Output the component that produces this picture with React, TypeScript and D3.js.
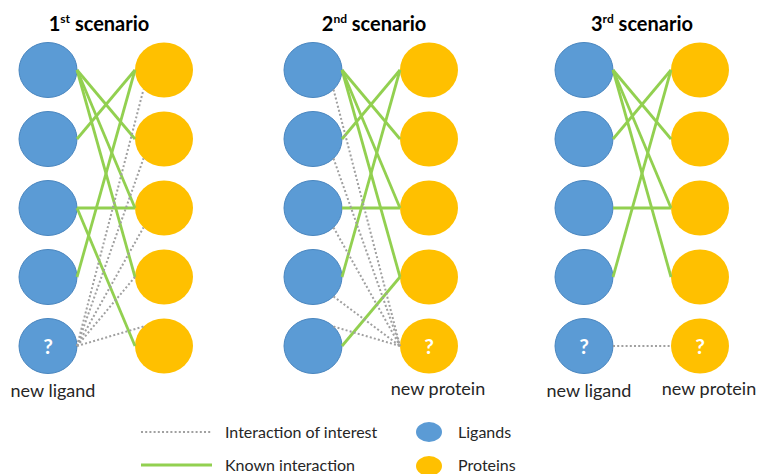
import React from "react";
import * as d3 from "d3";

// ---- data ----
const rows = [0, 1, 2, 3, 4];
const scenarioNums = ["1", "2", "3"];
const scenarioSups = ["st", "nd", "rd"];
const newLigand = [true, false, true];
const newProtein = [false, true, true];
// known interactions: [ligand row, protein row]
const known1: [number, number][] = [[0, 1], [0, 2], [0, 3], [1, 0], [2, 2], [2, 4], [3, 0]];
const known2: [number, number][] = [[0, 1], [0, 2], [0, 3], [1, 0], [2, 2], [3, 0], [4, 3]];
const known3: [number, number][] = [[0, 1], [0, 2], [0, 3], [1, 0], [2, 2], [3, 0]];
// interactions of interest: [ligand row, ligand site, protein row, protein site]
const interest1: [number, string, number, string][] = [
  [4, "r", 0, "dl"], [4, "r", 1, "dl"], [4, "r", 2, "dl"], [4, "r", 3, "l"], [4, "r", 4, "ul"],
];
const interest2: [number, string, number, string][] = [
  [0, "dr", 4, "l"], [1, "dr", 4, "l"], [2, "dr", 4, "l"], [3, "dr", 4, "l"], [4, "ur", 4, "l"],
];
const interest3: [number, string, number, string][] = [[4, "r", 4, "l"]];
const knownSets = [known1, known2, known3];
const interestSets = [interest1, interest2, interest3];
const legendLines = ["Interaction of interest", "Known interaction"];
const legendNodes = ["Ligands", "Proteins"];

const W = 758, H = 474;
const BLUE = "#5B9BD5", ORANGE = "#FFC000", GREEN = "#92D050", GREY = "#A0A0A0";
const TEXT = "#262626";
const FONT = "Lato, 'Open Sans', sans-serif";
const RX = 29, RY = 27.5;
const titleShift = [-7, 3, 0];

const yRow = d3.scalePoint<number>().domain(rows).range([70, 346]);
const xLig = d3.scaleOrdinal<number, number>().domain([0, 1, 2]).range([48, 313, 584]);
const GAP = 116;
const xProt = (i: number) => xLig(i) + GAP;

const siteAngle: Record<string, number> = {
  r: 0, dr: Math.PI / 4, ur: -Math.PI / 4, l: Math.PI, dl: (3 * Math.PI) / 4, ul: (-3 * Math.PI) / 4,
};
const site = (cx: number, cy: number, s: string) => {
  const a = siteAngle[s];
  return [cx + RX * Math.cos(a), cy + RY * Math.sin(a)];
};

export default function App() {
  return (
    <svg width={W} height={H} style={{ position: "absolute", left: 0, top: 0, background: "#fff" }}
      fontFamily={FONT}>
      {scenarioNums.map((num, p) => {
        const lx = xLig(p), px = xProt(p);
        return (
          <g key={p}>
            <text x={(lx + px) / 2 + titleShift[p]} y={31} textAnchor="middle" fontWeight="bold" fontSize={20} fill="#000">
              {num}
              <tspan dy={-8} fontSize={12}>{scenarioSups[p]}</tspan>
              <tspan dy={8}> scenario</tspan>
            </text>
            {rows.map((r) => (
              <g key={r}>
                <ellipse cx={lx} cy={yRow(r)} rx={RX} ry={RY} fill={BLUE} stroke="#4a86bf" strokeWidth={1} />
                <ellipse cx={px} cy={yRow(r)} rx={RX} ry={RY} fill={ORANGE} />
              </g>
            ))}
            {knownSets[p].map(([l, q], k) => (
              <line key={"k" + k} x1={lx + RX} y1={yRow(l)} x2={px - RX} y2={yRow(q)}
                stroke={GREEN} strokeWidth={2.8} />
            ))}
            {interestSets[p].map(([l, ls, q, qs], k) => {
              const [x1, y1] = site(lx, yRow(l)!, ls);
              const [x2, y2] = site(px, yRow(q)!, qs);
              return (
                <line key={"i" + k} x1={x1} y1={y1} x2={x2} y2={y2}
                  stroke={GREY} strokeWidth={2} strokeDasharray="2 2.2" />
              );
            })}
            {newLigand[p] && (
              <>
                <text x={lx} y={yRow(4)! + 8} textAnchor="middle" fontWeight="bold" fontSize={21} fill="#fff">?</text>
                <text x={lx + 5} y={397} textAnchor="middle" fontSize={18} fill={TEXT}>new ligand</text>
              </>
            )}
            {newProtein[p] && (
              <>
                <text x={px} y={yRow(4)! + 8} textAnchor="middle" fontWeight="bold" fontSize={21} fill="#fff">?</text>
                <text x={px + 9} y={395} textAnchor="middle" fontSize={18} fill={TEXT}>new protein</text>
              </>
            )}
          </g>
        );
      })}
      {/* legend */}
      <line x1={141} x2={212} y1={432} y2={432} stroke={GREY} strokeWidth={2} strokeDasharray="2 2.2" />
      <line x1={141} x2={212} y1={465} y2={465} stroke={GREEN} strokeWidth={2.8} />
      {legendLines.map((t, i) => (
        <text key={t} x={225} y={438 + i * 33} fontSize={16} fill={TEXT}>{t}</text>
      ))}
      {legendNodes.map((t, i) => (
        <g key={t}>
          <ellipse cx={429} cy={432 + i * 34} rx={13} ry={10} fill={i === 0 ? BLUE : ORANGE} />
          <text x={458} y={438 + i * 33} fontSize={16} fill={TEXT}>{t}</text>
        </g>
      ))}
    </svg>
  );
}
